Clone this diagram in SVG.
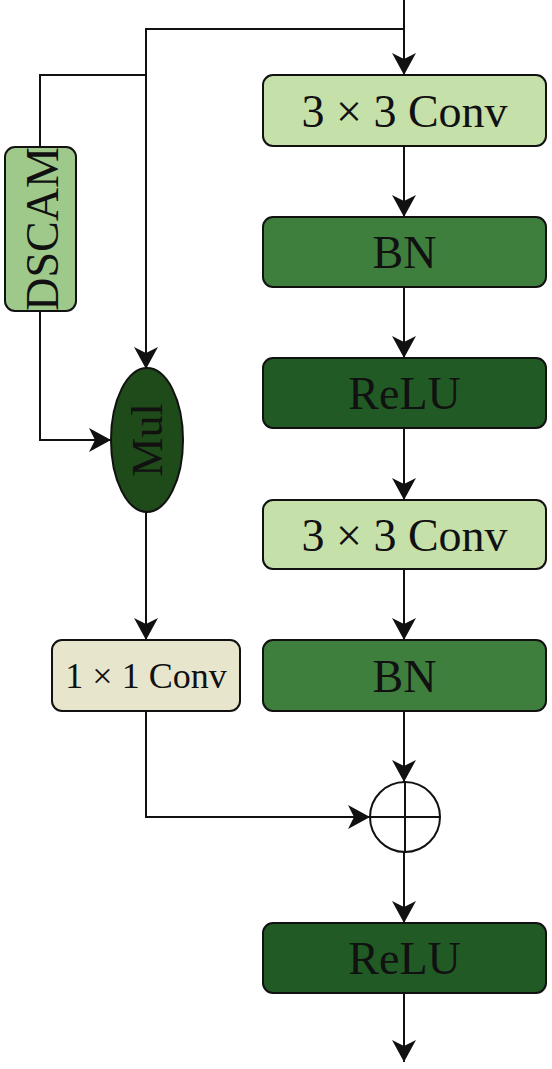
<svg xmlns="http://www.w3.org/2000/svg" width="552" height="1069" viewBox="0 0 552 1069">
<style>
.box{stroke:#111;stroke-width:2}
.lbl{font-family:"Liberation Serif","Times New Roman",serif;font-size:46px;fill:#111;text-anchor:middle}
.wire{fill:none;stroke:#111;stroke-width:2}
</style>
<defs>
<marker id="arr" viewBox="0 0 22 24" refX="22" refY="12" markerWidth="22" markerHeight="24" markerUnits="userSpaceOnUse" orient="auto">
<path d="M0,0 L22,12 L0,24 L6,12 z" fill="#111"/>
</marker>
</defs>
<rect width="552" height="1069" fill="#fff"/>
<g id="connectors">
<path class="wire" d="M404,0 V75" marker-end="url(#arr)"/>
<path class="wire" d="M404,29 H146 V369" marker-end="url(#arr)"/>
<path class="wire" d="M146,75 H40 V147"/>
<path class="wire" d="M40,311 V440 H111" marker-end="url(#arr)"/>
<path class="wire" d="M404,146 V217" marker-end="url(#arr)"/>
<path class="wire" d="M404,287 V358" marker-end="url(#arr)"/>
<path class="wire" d="M404,428 V500" marker-end="url(#arr)"/>
<path class="wire" d="M404,569 V640" marker-end="url(#arr)"/>
<path class="wire" d="M404,711 V782" marker-end="url(#arr)"/>
<path class="wire" d="M404,852 V923" marker-end="url(#arr)"/>
<path class="wire" d="M404,993 V1062" marker-end="url(#arr)"/>
<path class="wire" d="M146,512 V640" marker-end="url(#arr)"/>
<path class="wire" d="M146,711 V817 H370" marker-end="url(#arr)"/>
</g>
<g id="conv1"><rect class="box" x="263" y="75" width="283" height="71" rx="10" fill="#c6e0aa"/><text class="lbl" x="404.5" y="127">3 × 3 Conv</text></g>
<g id="bn1"><rect class="box" x="263" y="217" width="283" height="70" rx="10" fill="#3f7f3e"/><text class="lbl" x="404.5" y="268">BN</text></g>
<g id="relu1"><rect class="box" x="263" y="358" width="283" height="70" rx="10" fill="#215a25"/><text class="lbl" x="404.5" y="409">ReLU</text></g>
<g id="conv2"><rect class="box" x="263" y="500" width="283" height="69" rx="10" fill="#c6e0aa"/><text class="lbl" x="404.5" y="551">3 × 3 Conv</text></g>
<g id="bn2"><rect class="box" x="263" y="640" width="283" height="71" rx="10" fill="#3f7f3e"/><text class="lbl" x="404.5" y="692">BN</text></g>
<g id="add"><circle cx="405" cy="817" r="35" fill="#fff" stroke="#111" stroke-width="2"/><path class="wire" d="M370,817 H440 M405,782 V852"/></g>
<g id="relu2"><rect class="box" x="263" y="923" width="283" height="70" rx="10" fill="#215a25"/><text class="lbl" x="404.5" y="974">ReLU</text></g>
<g id="dscam"><rect class="box" x="5" y="147" width="71" height="164" rx="10" fill="#9ec98a"/><text class="lbl" transform="translate(58,229) rotate(-90)">DSCAM</text></g>
<g id="mul"><ellipse cx="147" cy="440" rx="36" ry="72" fill="#1f4a1a" stroke="#111" stroke-width="2"/><text class="lbl" style="font-size:44px" transform="translate(162,440) rotate(-90)">Mul</text></g>
<g id="conv1x1"><rect class="box" x="52" y="640" width="188" height="71" rx="10" fill="#e7e6cd"/><text class="lbl" style="font-size:36px" x="146" y="688">1 × 1 Conv</text></g>
</svg>
